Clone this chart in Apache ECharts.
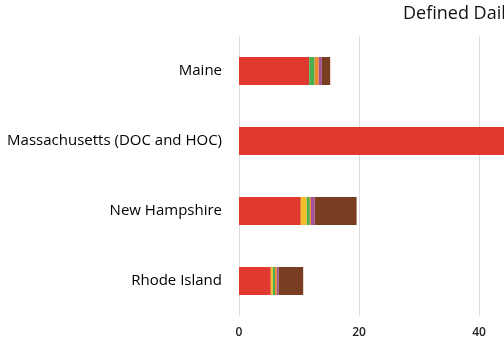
<!DOCTYPE html>
<html><head><meta charset="utf-8">
<script src="https://cdn.jsdelivr.net/npm/echarts@6/dist/echarts.min.js"></script>
<style>html,body{margin:0;padding:0;background:#fff}#c{width:504px;height:363px}</style>
</head><body><div id="c"></div>
<script>
const categories = ["Maine", "Massachusetts (DOC and HOC)", "New Hampshire", "Rhode Island"];
const redVals    = [11.7, 50, 10.3, 5.3];
const yellowVals = [0, 0, 1.0, 0.35];
const greenVals  = [0.9, 0, 0.5, 0.35];
const orangeVals = [0.7, 0, 0.2, 0.3];
const purpleVals = [0.5, 0, 0.6, 0.3];
const brownVals  = [1.4, 0, 7.0, 4.1];
const xTicks = [0, 20, 40, 60];

const seriesDefs = [
  ["A", redVals, "#e0392f"],
  ["B", yellowVals, "#f2bf2a"],
  ["C", greenVals, "#4caf4f"],
  ["D", orangeVals, "#ee8a2e"],
  ["E", purpleVals, "#a4509a"],
  ["F", brownVals, "#7a3e22"]
];

const chart = echarts.init(document.getElementById('c'), null, {renderer: 'canvas'});
chart.setOption({
  animation: false,
  title: {
    text: "Defined Daily Doses",
    left: 398, top: 0,
    textStyle: {fontFamily: "Open Sans", fontSize: 18, fontWeight: "normal", color: "#111"}
  },
  grid: {left: 239, width: 360, top: 36, height: 280, containLabel: false, outerBoundsMode: 'none'},
  xAxis: {
    type: 'value', min: xTicks[0], max: xTicks[xTicks.length-1], interval: 20,
    axisLine: {show: false}, axisTick: {show: false},
    splitLine: {lineStyle: {color: "#dcdcdc", width: 1}},
    axisLabel: {margin: 11, fontFamily: "Open Sans", fontSize: 12, fontWeight: 600, color: "#222"}
  },
  yAxis: {
    type: 'category', data: categories, inverse: true,
    axisLine: {show: false}, axisTick: {show: false},
    axisLabel: {margin: 17, fontFamily: "Open Sans", fontSize: 15, fontWeight: 500, color: "#000"}
  },
  series: seriesDefs.map(([name, vals, color]) => ({
    name, type: 'bar', stack: 'total', data: vals, barWidth: 28,
    itemStyle: {color}
  }))
});
</script></body></html>
